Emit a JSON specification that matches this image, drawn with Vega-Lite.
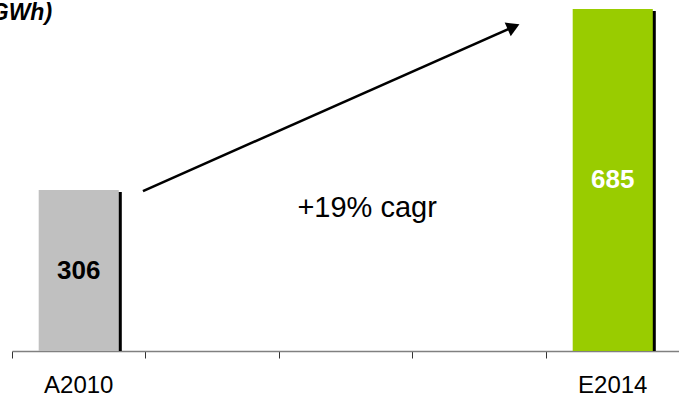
{
  "$schema": "https://vega.github.io/schema/vega-lite/v6.json",
  "width": 667.5,
  "height": 351,
  "autosize": "none",
  "padding": {"left": 12, "top": 0, "right": 0, "bottom": 44},
  "config": {
    "view": {"stroke": null},
    "font": "Liberation Sans",
    "text": {"font": "Liberation Sans"}
  },
  "layer": [
    {
      "data": {
        "values": [
          {"year": "A2010", "value": 306},
          {"year": "E2014", "value": 685}
        ]
      },
      "encoding": {
        "x": {
          "field": "year",
          "type": "nominal",
          "title": null,
          "scale": {
            "domain": ["A2010", "E2011", "E2012", "E2013", "E2014"],
            "paddingInner": 0,
            "paddingOuter": 0
          },
          "axis": {
            "orient": "bottom",
            "bandPosition": 0,
            "labelAngle": 0,
            "labelExpr": "datum.value == 'A2010' || datum.value == 'E2014' ? datum.value : ''",
            "labelFont": "Liberation Sans",
            "labelFontSize": 24,
            "labelColor": "#000000",
            "labelPadding": 15,
            "domainColor": "#808080",
            "domainWidth": 1.5,
            "tickColor": "#333333",
            "tickSize": 7,
            "tickWidth": 1
          }
        },
        "y": {
          "field": "value",
          "type": "quantitative",
          "scale": {"domain": [-31, 704], "nice": false, "zero": false},
          "axis": null
        }
      },
      "layer": [
        {
          "mark": {"type": "bar", "color": "#000000", "xOffset": 3, "yOffset": 2, "width": {"band": 0.6}},
          "encoding": {"y2": {"datum": -31}}
        },
        {
          "mark": {"type": "bar", "width": {"band": 0.6}},
          "encoding": {
            "y2": {"datum": -31},
            "color": {
              "field": "year",
              "type": "nominal",
              "scale": {"domain": ["A2010", "E2014"], "range": ["#C0C0C0", "#99CC00"]},
              "legend": null
            }
          }
        },
        {
          "transform": [{"calculate": "(datum.value - 31) / 2", "as": "mid"}],
          "mark": {"type": "text", "fontSize": 26, "fontWeight": "bold", "baseline": "middle", "align": "center"},
          "encoding": {
            "y": {"field": "mid", "type": "quantitative"},
            "text": {"field": "value", "type": "quantitative"},
            "color": {"condition": {"test": "datum.year == 'E2014'", "value": "#FFFFFF"}, "value": "#000000"}
          }
        }
      ]
    },
    {
      "data": {
        "values": [
          {"x0": 0.981, "y0": 304, "x1": 3.757, "y1": 648, "label": "+19% cagr", "lx": 2.66, "ly": 268, "unit": "(GWh)", "ux": 0.30, "uy": 662}
        ]
      },
      "encoding": {
        "x": {"type": "quantitative", "scale": {"domain": [0, 5], "nice": false, "zero": false}, "axis": null}
      },
      "layer": [
        {
          "mark": {"type": "rule", "color": "#000000", "strokeWidth": 2.5},
          "encoding": {
            "x": {"field": "x0", "type": "quantitative", "scale": {"domain": [0, 5], "nice": false, "zero": false}, "axis": null},
            "y": {"field": "y0", "type": "quantitative"},
            "x2": {"field": "x1"},
            "y2": {"field": "y1"}
          }
        },
        {
          "mark": {"type": "point", "shape": "triangle-right", "filled": true, "color": "#000000", "opacity": 1, "size": 220, "angle": -24},
          "encoding": {
            "x": {"field": "x1", "type": "quantitative", "scale": {"domain": [0, 5], "nice": false, "zero": false}, "axis": null},
            "y": {"field": "y1", "type": "quantitative"}
          }
        },
        {
          "mark": {"type": "text", "fontSize": 29, "align": "center", "baseline": "middle", "color": "#000000"},
          "encoding": {
            "x": {"field": "lx", "type": "quantitative", "scale": {"domain": [0, 5], "nice": false, "zero": false}, "axis": null},
            "y": {"field": "ly", "type": "quantitative"},
            "text": {"field": "label"}
          }
        },
        {
          "mark": {"type": "text", "fontSize": 23, "fontWeight": "bold", "fontStyle": "italic", "align": "right", "baseline": "alphabetic", "color": "#000000"},
          "encoding": {
            "x": {"field": "ux", "type": "quantitative", "scale": {"domain": [0, 5], "nice": false, "zero": false}, "axis": null},
            "y": {"field": "uy", "type": "quantitative"},
            "text": {"field": "unit"}
          }
        }
      ]
    }
  ],
  "resolve": {"scale": {"x": "independent"}}
}
